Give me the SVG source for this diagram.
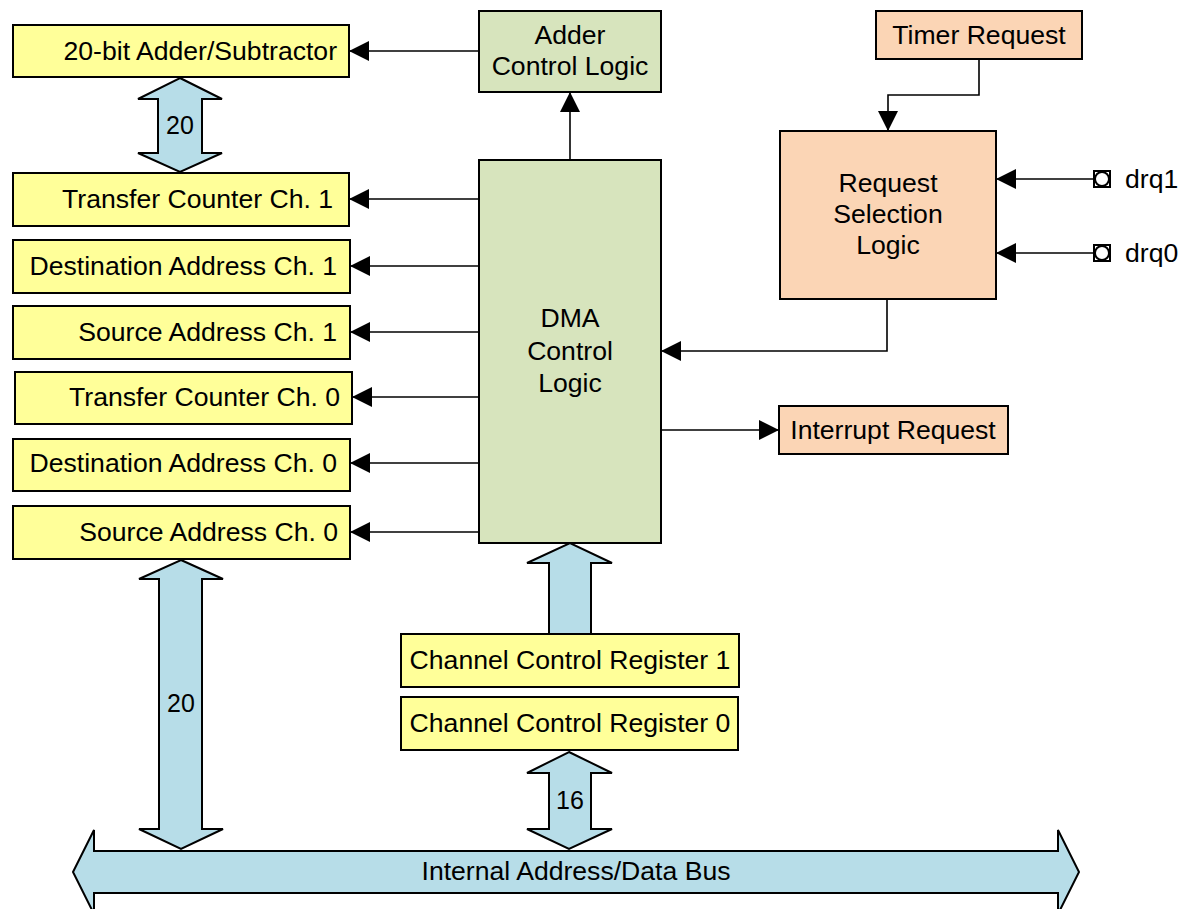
<svg xmlns="http://www.w3.org/2000/svg" width="1179" height="909" viewBox="0 0 1179 909">
<defs>
<style>
text{font-family:"Liberation Sans",Arial,sans-serif;font-size:26.6px;fill:#000}
.y{fill:#FFFF99;stroke:#000;stroke-width:2}
.g{fill:#D7E4BD;stroke:#000;stroke-width:2}
.o{fill:#FBD5B5;stroke:#000;stroke-width:2}
.b{fill:#B7DDE8;stroke:#000;stroke-width:2;stroke-linejoin:miter}
.c{fill:none;stroke:#000;stroke-width:1.6}
.r{text-anchor:end}
.m{text-anchor:middle}
.n{font-size:25px}
.p{fill:#fff;stroke:#000;stroke-width:2}
</style>
<marker id="ah" viewBox="0 0 20 20" markerWidth="20" markerHeight="20" markerUnits="userSpaceOnUse" refX="20" refY="10" orient="auto">
<path d="M0,0 L20,10 L0,20 Z" fill="#000"/>
</marker>
</defs>
<rect width="1179" height="909" fill="#fff"/>

<g id="buses">
<polygon class="b" points="73,872 94,830 94,851 1058,851 1058,830 1079,872 1058,914 1058,893 94,893 94,914"/>
<text class="m" x="576" y="880">Internal Address/Data Bus</text>
<polygon class="b" points="180,78 222,99 202,99 202,153 222,153 180,172 138,153 158,153 158,99 138,99"/>
<text class="m n" x="180" y="134">20</text>
<polygon class="b" points="181,560 223,579 202,579 202,829 223,829 181,849 139,829 159,829 159,579 139,579"/>
<text class="m n" x="181" y="712">20</text>
<polygon class="b" points="569,752 612,773 591,773 591,829 612,829 569,849 527,829 549,829 549,773 527,773"/>
<text class="m n" x="570" y="809">16</text>
<path class="b" d="M549,635 L549,563 L527,563 L570,543 L612,563 L591,563 L591,635"/>
</g>

<g id="adder"><rect class="y" x="13" y="25" width="336" height="52"/><text class="r" x="337" y="60">20-bit Adder/Subtractor</text></g>
<g id="tc1"><rect class="y" x="13" y="173" width="336" height="53"/><text class="r" x="333" y="208">Transfer Counter Ch. 1</text></g>
<g id="da1"><rect class="y" x="13" y="240" width="337" height="53"/><text class="r" x="337" y="275">Destination Address Ch. 1</text></g>
<g id="sa1"><rect class="y" x="13" y="306" width="337" height="53"/><text class="r" x="337" y="341">Source Address Ch. 1</text></g>
<g id="tc0"><rect class="y" x="15" y="372" width="337" height="52"/><text class="r" x="340" y="406">Transfer Counter Ch. 0</text></g>
<g id="da0"><rect class="y" x="13" y="439" width="337" height="52"/><text class="r" x="337" y="472">Destination Address Ch. 0</text></g>
<g id="sa0"><rect class="y" x="13" y="506" width="337" height="53"/><text class="r" x="338" y="541">Source Address Ch. 0</text></g>

<g id="ccr1"><rect class="y" x="401" y="634" width="338" height="53"/><text class="m" x="570" y="669">Channel Control Register 1</text></g>
<g id="ccr0"><rect class="y" x="401" y="697" width="337" height="53"/><text class="m" x="570" y="732">Channel Control Register 0</text></g>

<g id="addctl"><rect class="g" x="479" y="11" width="182" height="81"/><text class="m" x="570" y="44">Adder</text><text class="m" x="570" y="75">Control Logic</text></g>
<g id="dma"><rect class="g" x="479" y="160" width="182" height="383"/><text class="m" x="570" y="327">DMA</text><text class="m" x="570" y="360">Control</text><text class="m" x="570" y="392">Logic</text></g>

<g id="timer"><rect class="o" x="876" y="11" width="206" height="48"/><text class="m" x="979" y="44">Timer Request</text></g>
<g id="rsl"><rect class="o" x="780" y="131" width="216" height="168"/><text class="m" x="888" y="192">Request</text><text class="m" x="888" y="223">Selection</text><text class="m" x="888" y="254">Logic</text></g>
<g id="irq"><rect class="o" x="779" y="406" width="229" height="48"/><text class="m" x="893" y="439">Interrupt Request</text></g>

<g id="drq1"><rect class="p" x="1094" y="171" width="16" height="16"/><circle class="p" cx="1102" cy="179" r="7"/><text x="1125" y="188">drq1</text></g>
<g id="drq0"><rect class="p" x="1094" y="245" width="16" height="16"/><circle class="p" cx="1102" cy="253" r="7"/><text x="1125" y="262">drq0</text></g>

<g id="connectors">
<path class="c" marker-end="url(#ah)" d="M479,51 L349,51"/>
<path class="c" marker-end="url(#ah)" d="M479,199 L349,199"/>
<path class="c" marker-end="url(#ah)" d="M479,266 L350,266"/>
<path class="c" marker-end="url(#ah)" d="M479,332 L350,332"/>
<path class="c" marker-end="url(#ah)" d="M479,397 L352,397"/>
<path class="c" marker-end="url(#ah)" d="M479,463 L350,463"/>
<path class="c" marker-end="url(#ah)" d="M479,532 L350,532"/>
<path class="c" marker-end="url(#ah)" d="M570,160 L570,92"/>
<path class="c" marker-end="url(#ah)" d="M979,59 L979,95 L888,95 L888,131"/>
<path class="c" marker-end="url(#ah)" d="M887,299 L887,351 L661,351"/>
<path class="c" marker-end="url(#ah)" d="M661,430 L779,430"/>
<path class="c" marker-end="url(#ah)" d="M1094,179 L996,179"/>
<path class="c" marker-end="url(#ah)" d="M1094,253 L996,253"/>
</g>
</svg>
